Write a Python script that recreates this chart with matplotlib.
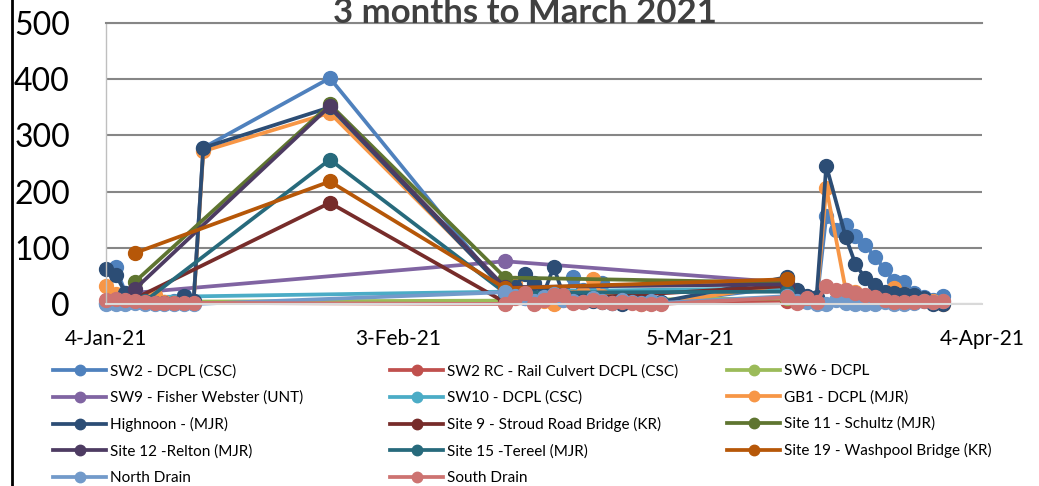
import pandas as pd
import matplotlib.pyplot as plt
from matplotlib.lines import Line2D

plt.rcParams['font.family'] = ['Lato', 'DejaVu Sans']

# sampling dates
jan_daily = pd.date_range("2021-01-04", "2021-01-13")
feb_daily = pd.date_range("2021-02-14", "2021-03-02")
mar_daily = pd.date_range("2021-03-15", "2021-03-31")
mar_skip = mar_daily.drop(pd.Timestamp("2021-03-20"))
jan_peaks = pd.to_datetime(["2021-01-14", "2021-01-27"])
site_days = pd.to_datetime(["2021-01-07", "2021-01-27", "2021-02-14", "2021-03-15"])
site15_days = pd.to_datetime(["2021-01-08", "2021-01-27", "2021-02-14", "2021-03-15"])
grab_days = pd.to_datetime(["2021-01-07", "2021-02-14", "2021-03-15"])

# values
sw2_jan = [2, 65, 20, 8, 5, 4, 4, 5, 16, 6]
sw2_peaks = [278, 402]
sw2_feb = [20, 15, 10, 12, 8, 15, 10, 48, 25, 20, 37, 12, 8, 5, 3, 5, 3]
sw2_mar = [30, 5, 8, 2, 157, 132, 141, 121, 105, 84, 62, 41, 39, 20, 12, 8, 15]

sw2rc_vals = [3, 1, 6]
sw6_vals = [4, 6, 10]
sw9_vals = [20, 76, 38]
sw10_vals = [12, 22, 28]

gb1_jan = [32, 18, 6, 4, 3, 16, 4, 2, 2, 2]
gb1_peaks = [272, 340]
gb1_feb = [28, 37, 15, 10, 5, 0, 8, 12, 20, 45, 15, 8, 5, 3, 0, 2, 1]
gb1_mar = [35, 8, 5, 3, 207, 25, 22, 15, 12, 10, 28, 18, 12, 8, 5, 0]

high_jan = [62, 52, 20, 8, 3, 2, 2, 2, 14, 5]
high_peaks = [278, 350]
high_feb = [25, 30, 53, 37, 20, 66, 15, 10, 8, 5, 3, 2, 0, 3, 5, 2, 4]
high_mar = [48, 25, 15, 12, 246, 119, 71, 46, 34, 21, 20, 18, 16, 11, 0, 0]

site9_vals = [10, 180, 3, 32]
site11_vals = [40, 355, 47, 38]
site12_vals = [27, 352, 30, 35]
site15_vals = [5, 257, 20, 22]
site19_vals = [91, 218, 28, 44]

north_jan = [0, 0, 0, 2, 0, 0, 0, 0, 0, 0]
north_feb = [21, 15, 10, 5, 12, 18, 8, 5, 3, 10, 5, 2, 8, 3, 2, 5, 2]
north_mar = [14, 6, 3, 0, 0, 8, 2, 0, 0, 0, 3, 0, 0, 2, 5, 3, 5]

south_jan = [8, 9, 7, 5, 3, 2, 2, 2, 2, 2]
south_feb = [0, 10, 20, 0, 7, 16, 16, 2, 4, 7, 4, 2, 4, 2, 0, 0, 0]
south_mar = [12, 2, 10, 4, 32, 25, 25, 20, 16, 12, 7, 4, 4, 4, 5, 3, 6]

tick_dates = pd.to_datetime(["2021-01-04", "2021-02-03", "2021-03-05", "2021-04-04"])
tick_labels = ["4-Jan-21", "3-Feb-21", "5-Mar-21", "4-Apr-21"]

logger = jan_daily.append(jan_peaks).append(feb_daily)
drains = jan_daily.append(feb_daily).append(mar_daily)

series = [
    ("SW2 - DCPL (CSC)", "#4F81BD", logger.append(mar_daily), sw2_jan + sw2_peaks + sw2_feb + sw2_mar),
    ("SW2 RC - Rail Culvert DCPL (CSC)", "#C0504D", grab_days, sw2rc_vals),
    ("SW6 - DCPL", "#9BBB59", grab_days, sw6_vals),
    ("SW9 - Fisher Webster (UNT)", "#8064A2", grab_days, sw9_vals),
    ("SW10 - DCPL (CSC)", "#4BACC6", grab_days, sw10_vals),
    ("GB1 - DCPL (MJR)", "#F79646", logger.append(mar_skip), gb1_jan + gb1_peaks + gb1_feb + gb1_mar),
    ("Highnoon - (MJR)", "#2C4D75", logger.append(mar_skip), high_jan + high_peaks + high_feb + high_mar),
    ("Site 9 - Stroud Road Bridge (KR)", "#772C2A", site_days, site9_vals),
    ("Site 11 - Schultz (MJR)", "#5F7530", site_days, site11_vals),
    ("Site 12 -Relton (MJR)", "#4D3B62", site_days, site12_vals),
    ("Site 15 -Tereel (MJR)", "#276A7C", site15_days, site15_vals),
    ("Site 19 - Washpool Bridge (KR)", "#B65708", site_days, site19_vals),
    ("North Drain", "#729ACA", drains, north_jan + north_feb + north_mar),
    ("South Drain", "#CD7371", drains, south_jan + south_feb + south_mar),
]

fig = plt.figure(figsize=(10.39, 4.86), dpi=100)
ax = fig.add_axes([106 / 1039, 1 - 304 / 486, 876 / 1039, 281 / 486])

lines = []
for name, col, d, v in series:
    ln, = ax.plot(d, v, color=col, lw=2.7, marker='o', ms=10, label=name, clip_on=False)
    lines.append(ln)

ax.set_xlim(pd.Timestamp("2021-01-04"), pd.Timestamp("2021-04-04"))
ax.set_ylim(0, 500)
ax.set_yticks([0, 100, 200, 300, 400, 500])
ax.set_xticks(tick_dates)
ax.set_xticklabels(tick_labels, fontsize=15)
ax.tick_params(axis='y', labelsize=23, length=0, pad=26)
ax.tick_params(axis='x', length=0, pad=18)

ax.yaxis.grid(True, color='#868686', lw=1.5)
ax.set_axisbelow(True)
ax.spines['right'].set_visible(False)
ax.spines['top'].set_color('#868686')
ax.spines['top'].set_linewidth(1.5)
ax.spines['left'].set_color('#BFBFBF')
ax.spines['left'].set_linewidth(1)
ax.spines['bottom'].set_color('#D9D9D9')
ax.spines['bottom'].set_linewidth(1.5)

fig.text(525 / 1039, 1 - 23 / 486, "3 months to March 2021", ha='center', va='baseline',
         fontsize=25, fontweight='bold', color='#404040')

# legend in three columns, filled row-wise
col_x = [53, 390, 727]
for c in range(3):
    hs = lines[c::3]
    fig.legend(handles=hs, labels=[h.get_label() for h in hs], loc='upper left',
               bbox_to_anchor=(col_x[c] / 1039, 1 - 364 / 486), frameon=False,
               fontsize=11, handlelength=3.5, handletextpad=0.2, borderpad=0,
               borderaxespad=0, labelspacing=0.8, markerscale=0.75)

fig.add_artist(Line2D([11.5 / 1039, 11.5 / 1039], [0, 1], color='black', lw=2))

plt.savefig("out.png", dpi=100)
